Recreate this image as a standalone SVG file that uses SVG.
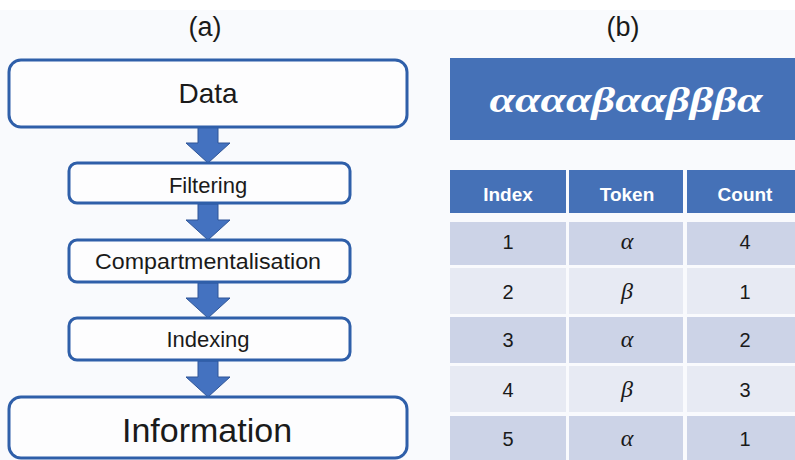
<svg xmlns="http://www.w3.org/2000/svg" width="795" height="460" viewBox="0 0 795 460">
<defs>
<style>
.box{fill:#fdfdfe;stroke:#2f5fa9;stroke-width:3}
.arrow{fill:#4472c0;stroke:#2f5597;stroke-width:1}
.t{font-family:"Liberation Sans",Arial,sans-serif;fill:#1a1a1a;text-anchor:middle}
.hd{font-family:"Liberation Sans",Arial,sans-serif;fill:#ffffff;font-weight:bold;text-anchor:middle;font-size:19px}
.c{font-family:"Liberation Sans",Arial,sans-serif;fill:#1a1a1a;text-anchor:middle;font-size:20px}
.g{font-family:"Liberation Serif","Times New Roman",serif;font-style:italic;fill:#1a1a1a;text-anchor:middle;font-size:24px}
.hdr{fill:#4571b7}
.odd{fill:#ccd3e7}
.even{fill:#e7eaf3}
</style>
</defs>
<rect x="0" y="0" width="795" height="460" fill="#ffffff"/>
<rect x="0" y="10" width="795" height="450" fill="#f9fafd"/>

<text class="t" x="205" y="36" font-size="27">(a)</text>
<text class="t" x="623" y="36" font-size="27">(b)</text>

<g id="connectors">
<path class="arrow" d="M198,127 H218 V143 H230 L208,163 L186,143 H198 Z"/>
<path class="arrow" d="M198,204 H218 V220 H230 L208,240 L186,220 H198 Z"/>
<path class="arrow" d="M198,283 H218 V298 H230 L208,318 L186,298 H198 Z"/>
<path class="arrow" d="M198,361 H218 V377 H230 L208,397 L186,377 H198 Z"/>
</g>

<g id="data">
<rect class="box" x="9" y="60" width="398" height="67" rx="12"/>
<text class="t" x="208" y="103" font-size="28">Data</text>
</g>
<g id="filtering">
<rect class="box" x="69" y="163" width="281" height="40" rx="8"/>
<text class="t" x="208" y="193" font-size="22">Filtering</text>
</g>
<g id="compartmentalisation">
<rect class="box" x="69" y="240" width="281" height="42" rx="8"/>
<text class="t" x="208" y="269" font-size="22" textLength="226" lengthAdjust="spacingAndGlyphs">Compartmentalisation</text>
</g>
<g id="indexing">
<rect class="box" x="69" y="318" width="281" height="42" rx="8"/>
<text class="t" x="208" y="347" font-size="22">Indexing</text>
</g>
<g id="information">
<rect class="box" x="9" y="397" width="398" height="61" rx="12"/>
<text class="t" x="207" y="442" font-size="34">Information</text>
</g>

<g id="sequence">
<rect x="450" y="58" width="345" height="82" fill="#4571b7"/>
<text x="626" y="112" font-family="'Liberation Serif','Times New Roman',serif" font-style="italic" font-weight="bold" font-size="36" fill="#ffffff" text-anchor="middle" textLength="273" lengthAdjust="spacingAndGlyphs">ααααβααβββα</text>
</g>

<g id="table">
<rect class="hdr" x="450" y="170" width="116" height="43"/>
<rect class="hdr" x="569" y="170" width="114" height="43"/>
<rect class="hdr" x="687" y="170" width="108" height="43"/>
<text class="hd" x="508" y="201">Index</text>
<text class="hd" x="627" y="201">Token</text>
<text class="hd" x="745" y="201">Count</text>

<rect class="odd" x="450" y="222" width="116" height="43"/>
<rect class="odd" x="569" y="222" width="114" height="43"/>
<rect class="odd" x="687" y="222" width="108" height="43"/>
<text class="c" x="508" y="249">1</text>
<text class="g" x="627" y="249">α</text>
<text class="c" x="745" y="249">4</text>

<rect class="even" x="450" y="268" width="116" height="46"/>
<rect class="even" x="569" y="268" width="114" height="46"/>
<rect class="even" x="687" y="268" width="108" height="46"/>
<text class="c" x="508" y="299">2</text>
<text class="g" x="627" y="299">β</text>
<text class="c" x="745" y="299">1</text>

<rect class="odd" x="450" y="317" width="116" height="46"/>
<rect class="odd" x="569" y="317" width="114" height="46"/>
<rect class="odd" x="687" y="317" width="108" height="46"/>
<text class="c" x="508" y="347">3</text>
<text class="g" x="627" y="347">α</text>
<text class="c" x="745" y="347">2</text>

<rect class="even" x="450" y="366" width="116" height="46"/>
<rect class="even" x="569" y="366" width="114" height="46"/>
<rect class="even" x="687" y="366" width="108" height="46"/>
<text class="c" x="508" y="397">4</text>
<text class="g" x="627" y="397">β</text>
<text class="c" x="745" y="397">3</text>

<rect class="odd" x="450" y="416" width="116" height="44"/>
<rect class="odd" x="569" y="416" width="114" height="44"/>
<rect class="odd" x="687" y="416" width="108" height="44"/>
<text class="c" x="508" y="446">5</text>
<text class="g" x="627" y="446">α</text>
<text class="c" x="745" y="446">1</text>
</g>
</svg>
